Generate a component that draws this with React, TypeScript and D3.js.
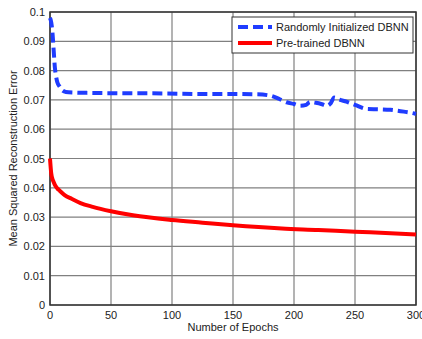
import React from "react";
import * as d3 from "d3";

const blueEpochs = [0, 1, 2, 3, 4, 5, 6, 8, 10, 13, 20, 30, 50, 93, 130, 150, 170, 180, 188, 194, 200, 205, 210, 213, 218, 223, 227, 230, 233, 237, 243, 250, 260, 270, 279, 290, 297, 300];
const blueValues = [0.098, 0.0965, 0.093, 0.087, 0.081, 0.078, 0.076, 0.0745, 0.0733, 0.0727, 0.0725, 0.0724, 0.0723, 0.0722, 0.072, 0.072, 0.0719, 0.0715, 0.0703, 0.0692, 0.0686, 0.068, 0.0683, 0.0693, 0.069, 0.0685, 0.068, 0.0688, 0.0708, 0.0701, 0.0694, 0.0683, 0.0669, 0.0668, 0.0666, 0.066, 0.0655, 0.0652];
const redEpochs = [0, 1, 2, 3, 4, 6, 8, 12, 18, 25, 35, 50, 68, 100, 125, 150, 190, 220, 250, 275, 300];
const redValues = [0.05, 0.045, 0.043, 0.042, 0.041, 0.0398, 0.039, 0.0375, 0.0362, 0.0348, 0.0335, 0.032, 0.0306, 0.029, 0.0281, 0.0272, 0.0261, 0.0256, 0.025, 0.0246, 0.0241];
const xTicks = [0, 50, 100, 150, 200, 250, 300];
const yTicks = [0, 0.01, 0.02, 0.03, 0.04, 0.05, 0.06, 0.07, 0.08, 0.09, 0.1];
const seriesNames = ["Randomly Initialized DBNN", "Pre-trained DBNN"];

const L = 50, R = 416, T = 12, B = 305;
const font = "Liberation Sans, Arial, sans-serif";

export default function App() {
  const x = d3.scaleLinear().domain([0, 300]).range([L, R]);
  const y = d3.scaleLinear().domain([0, 0.1]).range([B, T]);
  const line = d3.line<[number, number]>().x(d => x(d[0])).y(d => y(d[1])).curve(d3.curveMonotoneX);
  const blue = line(blueEpochs.map((e, i) => [e, blueValues[i]]) as [number, number][]) || "";
  const red = line(redEpochs.map((e, i) => [e, redValues[i]]) as [number, number][]) || "";
  return (
    <svg width={422} height={339} style={{ position: "absolute", left: 0, top: 0, background: "#fff" }} fontFamily={font}>
      <rect x={0} y={0} width={422} height={339} fill="#fff" />
      {xTicks.map(t => (
        <line key={"gx" + t} x1={x(t)} x2={x(t)} y1={T} y2={B} stroke="#808080" strokeWidth={1.2} />
      ))}
      {yTicks.map(t => (
        <line key={"gy" + t} x1={L} x2={R} y1={y(t)} y2={y(t)} stroke="#808080" strokeWidth={1.2} />
      ))}
      <rect x={L} y={T} width={R - L} height={B - T} fill="none" stroke="#333" strokeWidth={1.5} />
      <path d={red} fill="none" stroke="#ff0000" strokeWidth={4} strokeLinejoin="round" />
      <path d={blue} fill="none" stroke="#1f3cff" strokeWidth={4} strokeDasharray="10 5" />
      {xTicks.map(t => (
        <text key={"tx" + t} x={x(t)} y={B + 14} fontSize={11} textAnchor="middle" fill="#222">{t}</text>
      ))}
      {yTicks.map(t => (
        <text key={"ty" + t} x={L - 5} y={y(t) + 4} fontSize={11} textAnchor="end" fill="#222">{t === 0 ? "0" : String(+t.toFixed(2))}</text>
      ))}
      <text x={(L + R) / 2} y={331} fontSize={11} textAnchor="middle" fill="#222">Number of Epochs</text>
      <text transform={`translate(17, ${(T + B) / 2}) rotate(-90)`} fontSize={11} textAnchor="middle" fill="#222">Mean Squared Reconstruction Error</text>
      <rect x={232} y={17} width={181} height={36} fill="#fff" stroke="#333" strokeWidth={1} />
      <line x1={238} x2={272} y1={27} y2={27} stroke="#1f3cff" strokeWidth={4} strokeDasharray="10 5" />
      <line x1={238} x2={272} y1={43} y2={43} stroke="#ff0000" strokeWidth={4} />
      <text x={276} y={31} fontSize={11} fill="#222">{seriesNames[0]}</text>
      <text x={276} y={47} fontSize={11} fill="#222">{seriesNames[1]}</text>
    </svg>
  );
}
